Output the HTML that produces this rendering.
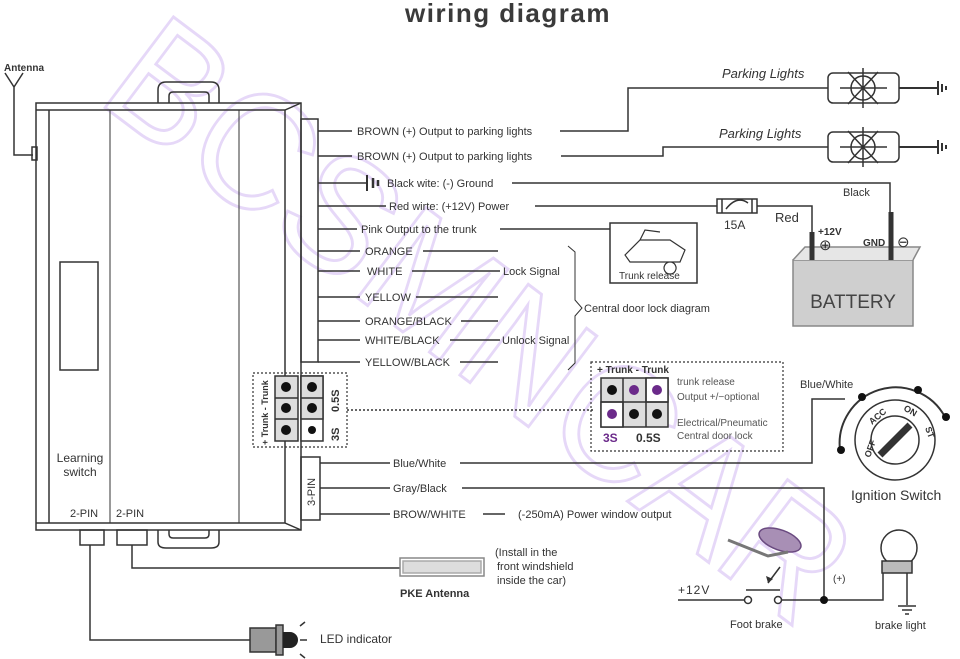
<!DOCTYPE html>
<html><head><meta charset="utf-8"><style>
html,body{margin:0;padding:0;background:#fff;width:960px;height:659px;overflow:hidden}
svg{display:block}
text{font-family:"Liberation Sans",sans-serif;fill:#333;font-size:11px}
</style></head><body>
<svg width="960" height="659" viewBox="0 0 960 659" xmlns="http://www.w3.org/2000/svg">
<!-- watermark -->
<text x="95" y="100" textLength="880" lengthAdjust="spacingAndGlyphs" transform="rotate(37 95 100)" style="fill:none;stroke:#e6d8f8;stroke-width:3;font-size:165px">BCSMNCAR</text>
<text x="508" y="22" text-anchor="middle" style="font-size:26px;font-weight:bold;fill:#3a3a3a;letter-spacing:1.5px">wiring diagram</text>

<g stroke="#333" stroke-width="1.5" fill="none">
<!-- antenna -->
<path d="M5 73 L14 87 L23 73 M14 87 V155 H33"/>
<rect x="32" y="147" width="5" height="13"/>
<!-- box -->
<rect x="36" y="103" width="265" height="427"/>
<path d="M36 110 H285 L301 103 M49 110 V523 M285 110 V523 L301 530 M36 523 H285"/>
<path d="M110 110 V523 M239 110 V523" stroke-width="1"/>
<rect x="60" y="262" width="38" height="108"/>
<path d="M158 103 V90 Q158 82 166 82 H211 Q219 82 219 90 V103 M169 103 V96 Q169 92 173 92 H205 Q209 92 209 96 V103"/>
<rect x="301" y="119" width="17" height="243"/>
<rect x="80" y="530" width="24" height="15"/>
<rect x="117" y="530" width="30" height="15"/>
<path d="M158 530 V542 Q158 548 166 548 H211 Q219 548 219 542 V530 M169 530 V534 Q169 538 173 538 H205 Q209 538 209 534 V530"/>
<!-- bottom wires -->
<path d="M90 545 V640 H250 M132 545 V568 H400"/>
<rect x="400" y="558" width="84" height="18" stroke="#888"/>
<rect x="403" y="561" width="78" height="12" fill="#ddd" stroke="#aaa"/>
<!-- right wires -->
<path d="M318 131 H352 M318 156 H352 M318 183 H367 M318 206 H386 M318 229 H357 M318 251 H360 M318 271 H360 M318 297 H360 M318 321 H360 M318 340 H360 M318 362 H360"/>
<path d="M560 131 H628 V88 H828 M561 156 H663 V147 H828"/>
<path d="M512 183 H890 V240 M535 206 H717 M757 206 H812 V232"/>
<path d="M500 229 H610 M423 251 H498 M412 271 H500 M416 297 H498 M461 321 H498 M450 340 H500 M460 362 H498"/>
<path d="M568 246 L575 252 V300 L582 308 L575 316 V363 L568 370" stroke-width="1"/>
<!-- ground symbol -->
<path d="M367 175 V191" stroke-width="2"/><path d="M373 178 V188 M378 180 V186" stroke-width="2.5"/>
<!-- fuse -->
<rect x="717" y="199" width="40" height="14"/><path d="M722 199 V213 M752 199 V213 M726 209 Q737 195 748 203"/>
<!-- parking lights -->
<rect x="828" y="73" width="71" height="30" rx="5"/>
<rect x="828" y="132" width="71" height="30" rx="5"/>
<circle cx="863" cy="88" r="12"/><circle cx="863" cy="147" r="12"/>
<path d="M840 88 H887 M863 68 V108 M848 72 L878 104 M878 72 L848 104 M840 147 H887 M863 127 V167 M848 131 L878 163 M878 131 L848 163"/>
<path d="M899 88 H938 M899 147 H938 M938 81 V95 M942 84 V92 M946 86 V90 M938 140 V154 M942 143 V151 M946 145 V149" stroke-width="2"/>
<!-- trunk release -->
<rect x="610" y="223" width="87" height="60"/>
<path d="M625 255 L640 240 H670 L685 250 L680 262 H630 Z M640 240 L645 230 L660 232 M670 262 a6 6 0 1 0 0.1 0" stroke-width="1.2"/>
<!-- battery -->
<rect x="793" y="260" width="120" height="66" fill="#cfcfcf" stroke="#888"/>
<path d="M793 260 L805 247 H920 L913 260" fill="#e6e6e6" stroke="#888"/>
<path d="M812 232 V260 M891 212 V260" stroke-width="5"/>
<!-- jumper left -->
<rect x="253" y="373" width="94" height="74" stroke-dasharray="2,2" stroke-width="1.2"/>
<path d="M347 410 H595" stroke-dasharray="2,2" stroke-width="1.5"/>
<rect x="275" y="376" width="23" height="65" fill="#ddd"/>
<path d="M275 398 H298 M275 419 H298"/>
<rect x="301" y="376" width="22" height="65" fill="#fff"/>
<rect x="301" y="376" width="22" height="43" fill="#ddd"/>
<path d="M301 398 H323"/>
<!-- jumper right -->
<rect x="591" y="362" width="192" height="89" stroke-dasharray="2,2" stroke-width="1.2"/>
<rect x="601" y="378" width="67" height="49" fill="#ddd"/>
<rect x="646" y="378" width="22" height="24" fill="#fff"/>
<rect x="601" y="402" width="22" height="25" fill="#fff"/>
<path d="M623 378 V427 M646 378 V427 M601 402 H668"/>
<!-- 3-pin -->
<rect x="301" y="457" width="19" height="63"/>
<path d="M320 463 H390 M460 463 H812 V399 H845 M320 488 H390 M462 488 H824 V600 M320 514 H390 M483 514 H505"/>
<!-- ignition -->
<circle cx="895" cy="440" r="40"/>
<circle cx="895" cy="440" r="24"/>
<path d="M840 450 A56 56 0 0 1 945 417" stroke-width="2"/>
<path d="M880 455 L910 425" stroke-width="7"/>
<!-- foot brake -->
<path d="M678 600 H744 M781 600 H883 V573 M907 573 V605 M746 590 H780 M780 567 L768 583"/>
<path d="M898 606 H916 M902 610 H912 M905 614 H909"/>
<circle cx="748" cy="600" r="3.5" fill="#fff"/><circle cx="778" cy="600" r="3.5" fill="#fff"/>
<ellipse cx="780" cy="540" rx="22" ry="10" transform="rotate(20 780 540)" fill="#a88fb5" stroke="#6a4a80"/>
<path d="M728 540 L768 556 L788 552" stroke="#777" stroke-width="3"/>
<circle cx="899" cy="548" r="18"/>
<rect x="882" y="561" width="30" height="12" fill="#bbb"/>
<!-- LED -->
<rect x="250" y="628" width="26" height="24" fill="#999"/>
<rect x="276" y="625" width="7" height="30" fill="#999"/>
<path d="M300 626 L305 622 M300 640 H307 M300 654 L305 658"/>
</g>
<path d="M283 632 H290 A8 8 0 0 1 290 648 H283 Z" fill="#222"/>
<path d="M768 583 l-2 -7 l7 3 Z" fill="#333"/>
<circle cx="824" cy="600" r="4" fill="#111"/>
<g fill="#111">
<circle cx="841" cy="450" r="4"/><circle cx="862" cy="397" r="4"/><circle cx="918" cy="390" r="4"/><circle cx="946" cy="417" r="4"/>
<circle cx="286" cy="387" r="5"/><circle cx="312" cy="387" r="5"/><circle cx="286" cy="408" r="5"/><circle cx="312" cy="408" r="5"/><circle cx="286" cy="430" r="5"/><circle cx="312" cy="430" r="4"/>
<circle cx="612" cy="390" r="5"/><circle cx="634" cy="390" r="5" fill="#6b2a8a"/><circle cx="657" cy="390" r="5" fill="#6b2a8a"/><circle cx="612" cy="414" r="5" fill="#6b2a8a"/><circle cx="634" cy="414" r="5"/><circle cx="657" cy="414" r="5"/>
</g>
<!-- texts -->
<text x="4" y="71" style="font-weight:bold;font-size:10px">Antenna</text>
<text x="80" y="462" text-anchor="middle" style="font-size:12px">Learning</text>
<text x="80" y="476" text-anchor="middle" style="font-size:12px">switch</text>
<text x="70" y="517">2-PIN</text><text x="116" y="517">2-PIN</text>
<text x="357" y="135">BROWN  (+) Output to parking lights</text>
<text x="357" y="160">BROWN  (+) Output to parking lights</text>
<text x="387" y="187">Black wite: (-) Ground</text>
<text x="389" y="210">Red wirte:  (+12V) Power</text>
<text x="361" y="233">Pink  Output to the trunk</text>
<text x="365" y="255">ORANGE</text>
<text x="367" y="275">WHITE</text><text x="503" y="275">Lock Signal</text>
<text x="365" y="301">YELLOW</text>
<text x="365" y="325">ORANGE/BLACK</text>
<text x="365" y="344">WHITE/BLACK</text><text x="502" y="344">Unlock Signal</text>
<text x="365" y="366">YELLOW/BLACK</text>
<text x="584" y="312">Central door lock diagram</text>
<text x="722" y="78" style="font-style:italic;font-size:13px">Parking Lights</text>
<text x="719" y="138" style="font-style:italic;font-size:13px">Parking Lights</text>
<text x="843" y="196">Black</text>
<text x="724" y="229" style="font-size:12px">15A</text>
<text x="775" y="222" style="font-size:13px">Red</text>
<text x="619" y="279" style="font-size:10px">Trunk release</text>
<text x="818" y="235" style="font-size:10px;font-weight:bold">+12V</text>
<text x="819" y="250" style="font-size:15px">⊕</text>
<text x="863" y="246" style="font-size:10px;font-weight:bold">GND</text>
<text x="897" y="247" style="font-size:15px">⊖</text>
<text x="853" y="308" text-anchor="middle" style="font-size:19px;fill:#444">BATTERY</text>
<text x="597" y="373" style="font-size:10px;font-weight:bold">+ Trunk  - Trunk</text>
<text x="677" y="385" style="font-size:10px;fill:#555">trunk release</text>
<text x="677" y="400" style="font-size:10px;fill:#555">Output +/−optional</text>
<text x="677" y="426" style="font-size:10px;fill:#555">Electrical/Pneumatic</text>
<text x="677" y="439" style="font-size:10px;fill:#555">Central door lock</text>
<text x="603" y="442" style="font-size:12px;font-weight:bold;fill:#6b2a8a">3S</text>
<text x="636" y="442" style="font-size:12px;font-weight:bold">0.5S</text>
<text transform="translate(268 445) rotate(-90)" style="font-size:9px;font-weight:bold">+ Trunk  - Trunk</text>
<text transform="translate(339 412) rotate(-90)" style="font-size:11px;font-weight:bold">0.5S</text>
<text transform="translate(339 441) rotate(-90)" style="font-size:11px;font-weight:bold">3S</text>
<text transform="translate(315 506) rotate(-90)" style="font-size:11px">3-PIN</text>
<text x="393" y="467">Blue/White</text>
<text x="393" y="492">Gray/Black</text>
<text x="393" y="518">BROW/WHITE</text>
<text x="518" y="518">(-250mA) Power window output</text>
<text x="800" y="388">Blue/White</text>
<text x="851" y="500" style="font-size:14px">Ignition Switch</text>
<text transform="translate(870 458) rotate(-70)" style="font-size:9px;font-weight:bold">OFF</text>
<text transform="translate(872 425) rotate(-40)" style="font-size:9px;font-weight:bold">ACC</text>
<text transform="translate(903 410) rotate(30)" style="font-size:9px;font-weight:bold">ON</text>
<text transform="translate(925 428) rotate(70)" style="font-size:9px;font-weight:bold">ST</text>
<text x="678" y="594" style="font-size:12px;letter-spacing:1px">+12V</text>
<text x="833" y="582" style="font-size:10px">(+)</text>
<text x="730" y="628">Foot brake</text>
<text x="875" y="629">brake light</text>
<text x="400" y="597" style="font-weight:bold">PKE  Antenna</text>
<text x="495" y="556">(Install in the</text>
<text x="497" y="570">front windshield</text>
<text x="497" y="584">inside the car)</text>
<text x="320" y="643" style="font-size:12px">LED indicator</text>
</svg>
</body></html>
